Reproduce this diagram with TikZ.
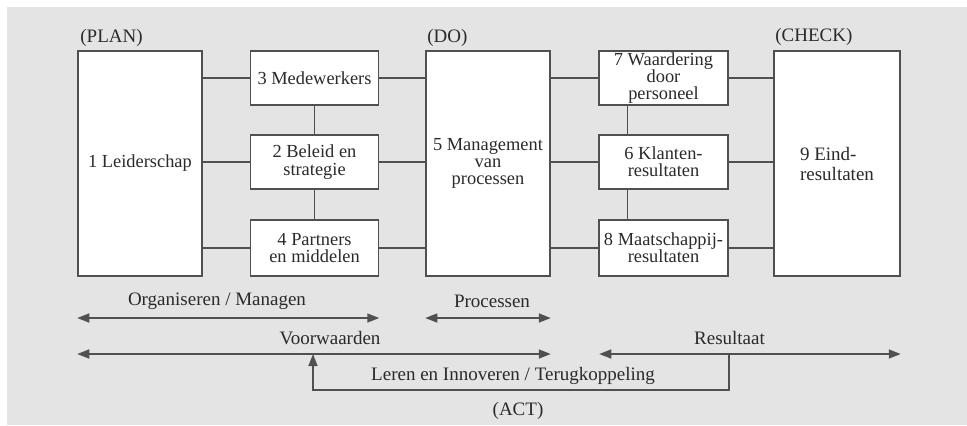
\documentclass[tikz,border=0pt]{standalone}
\usepackage{fontspec}
\setmainfont{Liberation Serif}
\usetikzlibrary{arrows.meta,calc}
\definecolor{bggray}{HTML}{E4E4E4}
\definecolor{linegray}{HTML}{505050}
\definecolor{txtgray}{HTML}{2A2A2A}
\begin{document}
\begin{tikzpicture}[x=0.5pt,y=-0.5pt,
  box/.style={draw=linegray,line width=0.75pt,fill=white,inner sep=0pt,align=center,
    text=txtgray,font=\fontsize{9.2}{8.6}\selectfont},
  tallbox/.style={box,minimum width=62pt,minimum height=112.5pt},
  smallbox/.style={box,minimum width=64pt,minimum height=27pt},
  conn/.style={draw=linegray,line width=0.75pt},
  tip/.style={Triangle[length=6pt,width=4.5pt]},
  arr/.style={conn,{Triangle[length=6pt,width=4.5pt]}-{Triangle[length=6pt,width=4.5pt]}},
  lbl/.style={text=txtgray,font=\fontsize{9.5}{11}\selectfont,inner sep=0pt}]
\useasboundingbox (0,0) rectangle (967,425);
\fill[bggray] (7,7) rectangle (967,425);

% boxes
\node[tallbox] (b1) at (140,163.5) {1 Leiderschap};
\node[smallbox] (b3) at (314.5,78) {3 Medewerkers};
\node[smallbox] (b2) at (314.5,162) {2 Beleid en\\strategie};
\node[smallbox,minimum height=28pt] (b4) at (314.5,248) {4 Partners\\en middelen};
\node[tallbox] (b5) at (488,163.5) {5 Management\\van\\processen};
\node[smallbox,minimum width=64.5pt] (b7) at (663.5,78) {7 Waardering\\door\\personeel};
\node[smallbox,minimum width=64.5pt] (b6) at (663.5,162) {6 Klanten-\\resultaten};
\node[smallbox,minimum width=64.5pt,minimum height=28pt] (b8) at (663.5,248) {8 Maatschappij-\\resultaten};
\node[tallbox,minimum width=63pt,align=left,font=\fontsize{9.5}{10}\selectfont] (b9) at (837,163.5) {9 Eind-\\resultaten};

% phase labels
\node[lbl,anchor=west] (plan) at (80,38) {(PLAN)};
\node[lbl,anchor=west] (do) at (427,38) {(DO)};
\node[lbl,anchor=west] (check) at (775,37) {(CHECK)};
\node[lbl] (act) at (518,411) {(ACT)};

% horizontal connectors
\foreach \r in {b3,b2,b4}{
  \draw[conn] (b1.east |- \r) -- (\r.west);
  \draw[conn] (\r.east) -- (b5.west |- \r);
}
\foreach \r in {b7,b6,b8}{
  \draw[conn] (b5.east |- \r) -- (\r.west);
  \draw[conn] (\r.east) -- (b9.west |- \r);
}
% vertical connectors
\draw[conn] (b3.south) -- (b2.north);
\draw[conn] (b2.south) -- (b4.north);
\draw[conn] ([xshift=14.5pt]b7.south west) -- ([xshift=14.5pt]b6.north west);
\draw[conn] ([xshift=14.5pt]b6.south west) -- ([xshift=14.5pt]b8.north west);

% arrow end coordinates
\coordinate (o1) at (b1.west |- 0,318);
\coordinate (o2) at (b4.east |- 0,318);
\coordinate (p1) at (b5.west |- 0,318);
\coordinate (p2) at (b5.east |- 0,318);
\coordinate (v1) at (b1.west |- 0,354);
\coordinate (v2) at (b5.east |- 0,354);
\coordinate (r1) at ([xshift=0.5pt]b8.west |- 0,354);
\coordinate (r2) at (b9.east |- 0,354);
\coordinate (f0) at (b8.east |- 0,354);
\coordinate (f1) at (b8.east |- 0,390);
\coordinate (f2) at (313,390);
\coordinate (f3) at (313,354);

\draw[arr] (o1) -- (o2);
\draw[arr] (p1) -- (p2);
\draw[arr] (v1) -- (v2);
\draw[arr] (r1) -- (r2);
\draw[conn,-{Triangle[length=6pt,width=4.5pt]}] (f0) -- (f1) -- (f2) -- (f3);

% arrow labels
\node[lbl] (lorg) at (217,301) {Organiseren / Managen};
\node[lbl] (lproc) at (492,301) {Processen};
\node[lbl] (lvoor) at (330,338) {Voorwaarden};
\node[lbl] (lres) at (729.5,338) {Resultaat};
\node[lbl] (lleer) at (513,376) {Leren en Innoveren / Terugkoppeling};
\end{tikzpicture}
\end{document}
